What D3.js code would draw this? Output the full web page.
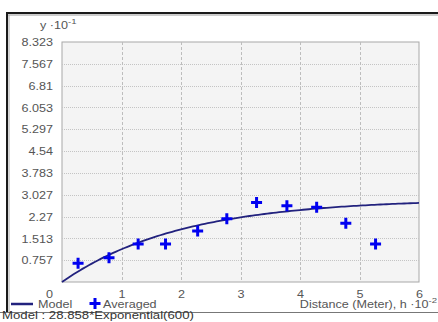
<!DOCTYPE html>
<html><head><meta charset="utf-8">
<script src="https://cdn.jsdelivr.net/npm/d3@7"></script>
<style>
html,body{margin:0;padding:0;background:#fff;overflow:hidden}
svg{display:block;font-family:"Liberation Sans",Arial,sans-serif}
</style></head><body>
<svg id="chart" width="438" height="322"></svg>
<script>
// Semivariogram: averaged empirical values and fitted exponential model
const yTickValues = [0.757, 1.513, 2.27, 3.027, 3.783, 4.54, 5.297, 6.053, 6.81, 7.567, 8.323];
const xTickValues = [0, 1, 2, 3, 4, 5, 6];
const lagDistance = [0.27, 0.79, 1.28, 1.74, 2.28, 2.77, 3.27, 3.78, 4.28, 4.77, 5.27];
const averagedValues = [0.65, 0.84, 1.32, 1.32, 1.77, 2.19, 2.76, 2.64, 2.59, 2.04, 1.32];
const modelSill = 28.858;   // as printed in the model string
const modelRange = 600;     // as printed in the model string
const modelLabel = "Model : 28.858*Exponential(600)";

// axis units: y in 10^-1, distance in 10^-2
const sillDisplay = modelSill / 10;
const rangeDisplay = modelRange / 100;

const SX = 1.2;           // horizontal stretch of all text
const FS = 10.5;
const svg = d3.select("#chart");
const x = d3.scaleLinear().domain([0, 6]).range([62, 419]);
const y = d3.scaleLinear().domain([0, 8.323]).range([282, 42]);

// text helper with horizontal stretch
function label(g, px, py, parts, anchor, color, size) {
  const t = g.append("text")
    .attr("transform", `translate(${px},${py}) scale(${SX},1)`)
    .attr("text-anchor", anchor || "start")
    .attr("fill", color || "#555")
    .attr("font-size", size || FS);
  parts.forEach(p => {
    const s = t.append("tspan").text(p.t);
    if (p.sup) s.attr("font-size", 8).attr("dy", -5);
  });
  return t;
}

// frame
svg.append("rect").attr("x", 0).attr("y", 0).attr("width", 438).attr("height", 322).attr("fill", "#fff");
svg.append("line").attr("x1", 6).attr("x2", 438).attr("y1", 13).attr("y2", 13).attr("stroke", "#1a1a1a").attr("stroke-width", 2);
svg.append("line").attr("x1", 6).attr("x2", 438).attr("y1", 15).attr("y2", 15).attr("stroke", "#999").attr("stroke-width", 1);
svg.append("line").attr("x1", 7).attr("x2", 7).attr("y1", 12).attr("y2", 312).attr("stroke", "#1a1a1a").attr("stroke-width", 2);
svg.append("line").attr("x1", 9).attr("x2", 9).attr("y1", 15).attr("y2", 312).attr("stroke", "#aaa").attr("stroke-width", 1);
svg.append("line").attr("x1", 0).attr("x2", 438).attr("y1", 312.5).attr("y2", 312.5).attr("stroke", "#777").attr("stroke-width", 1);

// plot area
svg.append("rect").attr("x", x(0)).attr("y", y(8.323)).attr("width", x(6) - x(0)).attr("height", y(0) - y(8.323))
  .attr("fill", "#f4f4f4").attr("stroke", "#a8a8a8");

// grid
const grid = svg.append("g");
grid.selectAll(".hg").data(yTickValues.slice(0, -1)).join("line")
  .attr("x1", x(0)).attr("x2", x(6)).attr("y1", d => Math.round(y(d)) + 0.5).attr("y2", d => Math.round(y(d)) + 0.5)
  .attr("stroke", "#c4c4c4").attr("stroke-dasharray", "1,1");
grid.selectAll(".vg").data(xTickValues.slice(1, -1)).join("line")
  .attr("y1", y(8.323)).attr("y2", y(0)).attr("x1", d => Math.round(x(d)) + 0.5).attr("x2", d => Math.round(x(d)) + 0.5)
  .attr("stroke", "#bdbdbd").attr("stroke-dasharray", "3,2");

// y axis labels
const yAxis = svg.append("g").attr("transform", `translate(${x(0)},0)`)
  .call(d3.axisLeft(y).tickValues(yTickValues).tickSize(0).tickFormat(d => String(d)));
yAxis.select(".domain").remove();
yAxis.selectAll("text").attr("x", -9 / SX).attr("dy", "0.35em").attr("transform", `scale(${SX},1)`)
  .attr("fill", "#555").attr("font-size", FS).attr("font-family", null);

// x axis labels
const xAxis = svg.append("g").attr("transform", `translate(0,${y(0)})`)
  .call(d3.axisBottom(x).tickValues(xTickValues).tickSize(0).tickFormat(d3.format("d")));
xAxis.select(".domain").remove();
xAxis.selectAll("text").attr("y", 9).attr("transform", d => d === 0 ? `translate(-13,0) scale(${SX},1)` : `scale(${SX},1)`)
  .attr("fill", "#555").attr("font-size", FS).attr("font-family", null);

// axis titles
label(svg, 40, 29, [{ t: "y ·10" }, { t: "-1", sup: true }], "start", "#555");
label(svg, 437, 308, [{ t: "Distance (Meter), h ·10" }, { t: "-2", sup: true }], "end", "#555");

// model curve
const hs = d3.range(0, 6.0001, 0.05);
const model = d3.line().x(h => x(h)).y(h => y(sillDisplay * (1 - Math.exp(-3 * h / rangeDisplay))));
svg.append("path").datum(hs).attr("d", model).attr("fill", "none").attr("stroke", "#22227e").attr("stroke-width", 1.8);

// averaged points
const plus = s => `M${-s},0H${s}M0,${-s}V${s}`;
svg.append("g").selectAll("path").data(lagDistance.map((d, i) => [d, averagedValues[i]])).join("path")
  .attr("transform", d => `translate(${x(d[0])},${y(d[1])})`)
  .attr("d", plus(5.5)).attr("stroke", "#0000f0").attr("stroke-width", 3).attr("fill", "none");

// legend
const lg = svg.append("g");
lg.append("line").attr("x1", 11).attr("x2", 33).attr("y1", 304).attr("y2", 304).attr("stroke", "#22227e").attr("stroke-width", 2.5);
label(lg, 38, 308, [{ t: "Model" }], "start", "#555");
lg.append("path").attr("transform", "translate(95,303.5)").attr("d", plus(5.5)).attr("stroke", "#0000f0").attr("stroke-width", 3);
label(lg, 103, 308, [{ t: "Averaged" }], "start", "#555");

// status line
label(svg, 2, 319, [{ t: modelLabel }], "start", "#333", 11);
</script>
</body></html>
